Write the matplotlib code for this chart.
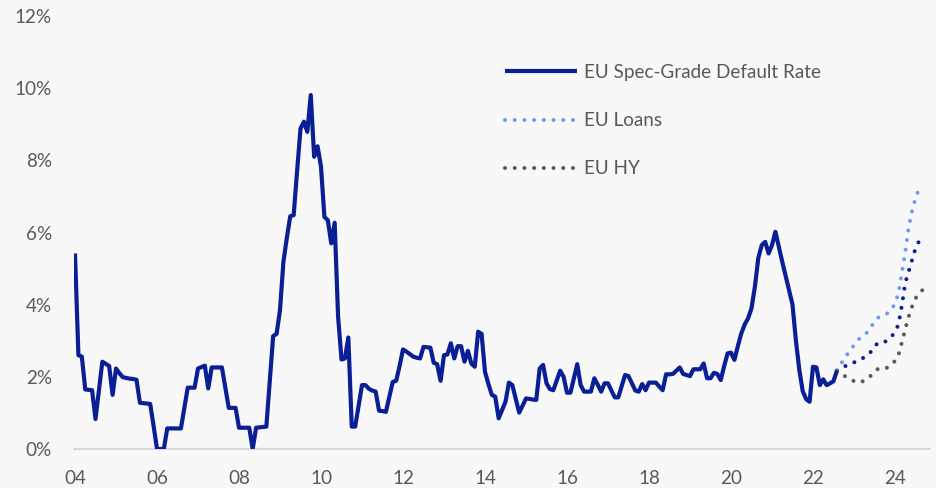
import numpy as np
import pandas as pd
import matplotlib
matplotlib.use("Agg")
import matplotlib.pyplot as plt

# ---- data -------------------------------------------------------------
start_month = "2004-01"
spec_grade_rate = [
    # 2004
    5.42, 2.60, 2.56, 1.65, 1.64, 1.63, 0.83, 1.62, 2.42, 2.36, 2.30, 1.50,
    # 2005
    2.23, 2.10, 1.99, 1.97, 1.95, 1.94, 1.92, 1.28, 1.27, 1.26, 1.25, 0.64,
    # 2006
    0.00, 0.00, 0.00, 0.57, 0.57, 0.57, 0.57, 0.57, 1.13, 1.70, 1.70, 1.70,
    # 2007
    2.23, 2.27, 2.31, 1.68, 2.26, 2.26, 2.26, 2.26, 1.70, 1.14, 1.14, 1.14,
    # 2008
    0.59, 0.59, 0.59, 0.59, 0.00, 0.59, 0.60, 0.61, 0.62, 1.88, 3.13, 3.19,
    # 2009
    3.85, 5.19, 5.85, 6.45, 6.48, 7.70, 8.88, 9.07, 8.79, 9.81, 8.10, 8.39,
    # 2010
    7.82, 6.43, 6.34, 5.70, 6.27, 3.67, 2.48, 2.51, 3.09, 0.62, 0.62, 1.20,
    # 2011
    1.77, 1.77, 1.67, 1.62, 1.59, 1.06, 1.05, 1.03, 1.45, 1.86, 1.89, 2.30,
    # 2012
    2.76, 2.70, 2.63, 2.56, 2.53, 2.51, 2.83, 2.82, 2.81, 2.39, 2.35, 1.89,
    # 2013
    2.60, 2.62, 2.93, 2.51, 2.85, 2.85, 2.42, 2.72, 2.37, 2.28, 3.25, 3.19,
    # 2014
    2.14, 1.80, 1.50, 1.45, 0.85, 1.08, 1.31, 1.84, 1.77, 1.39, 1.01, 1.20,
    # 2015
    1.40, 1.39, 1.37, 1.36, 2.23, 2.33, 1.82, 1.66, 1.63, 1.90, 2.17, 2.00,
    # 2016
    1.56, 1.56, 1.95, 2.35, 1.77, 1.59, 1.59, 1.59, 1.96, 1.78, 1.59, 1.82,
    # 2017
    1.82, 1.62, 1.43, 1.43, 1.74, 2.05, 2.02, 1.82, 1.62, 1.59, 1.80, 1.63,
    # 2018
    1.84, 1.84, 1.84, 1.73, 1.63, 2.07, 2.07, 2.08, 2.17, 2.26, 2.08, 2.05,
    # 2019
    2.02, 2.21, 2.21, 2.21, 2.37, 1.96, 1.96, 2.11, 2.08, 1.91, 2.30, 2.65,
    # 2020
    2.67, 2.47, 2.85, 3.20, 3.45, 3.62, 3.90, 4.50, 5.30, 5.65, 5.74, 5.42,
    # 2021
    5.65, 6.02, 5.60, 5.19, 4.80, 4.40, 4.00, 3.00, 2.19, 1.60, 1.38, 1.31,
    # 2022
    2.28, 2.26, 1.77, 1.93, 1.77, 1.82, 1.88, 2.17,
]

forecast_start = "2022-08"
eu_loans = [2.17, 2.33, 2.48, 2.62, 2.74, 2.88, 3.00, 3.10, 3.17, 3.24, 3.38,
            3.53, 3.64, 3.67, 3.72, 3.77, 3.86, 4.05, 4.30, 4.88, 5.45, 6.15,
            6.60, 6.95, 7.20, 7.32]
eu_baseline = [2.17, 2.22, 2.28, 2.32, 2.36, 2.40, 2.44, 2.49, 2.54, 2.60, 2.70,
               2.84, 2.94, 2.95, 2.97, 3.02, 3.12, 3.24, 3.45, 3.97, 4.60, 4.92,
               5.24, 5.56, 5.75, 5.84]
eu_hy = [2.17, 2.10, 2.04, 1.98, 1.93, 1.88, 1.84, 1.86, 1.89, 1.95, 2.04,
         2.14, 2.22, 2.22, 2.22, 2.27, 2.34, 2.44, 2.60, 2.95, 3.32, 3.67,
         3.95, 4.17, 4.32, 4.40]

x_ticks = [2004, 2006, 2008, 2010, 2012, 2014, 2016, 2018, 2020, 2022, 2024]
x_tick_labels = ["04", "06", "08", "10", "12", "14", "16", "18", "20", "22", "24"]
y_ticks = [0, 2, 4, 6, 8, 10, 12]
y_tick_labels = ["0%", "2%", "4%", "6%", "8%", "10%", "12%"]

legend_labels = ["EU Spec-Grade Default Rate", "EU Loans", "EU HY"]

# ---- helpers -----------------------------------------------------------
def decimal_years(start, n):
    d = pd.date_range(start, periods=n, freq="MS")
    return d.year + (d.month - 1) / 12.0

t_main = decimal_years(start_month, len(spec_grade_rate))
t_fc = decimal_years(forecast_start, len(eu_loans))

# ---- style -------------------------------------------------------------
plt.rcParams["font.family"] = ["Lato", "DejaVu Sans"]
bg = "#f8f8f8"
txt = "#595959"
navy = "#0a1e96"
light = "#6f9cef"
grey = "#5a5a5e"
fs = 13.6

W, H = 936, 488
fig = plt.figure(figsize=(W / 100, H / 100), dpi=100, facecolor=bg)

x_left, x_right = 2003.98, 2024.85
px_left = 75 + (x_left - 2004) * 41
px_right = 75 + (x_right - 2004) * 41
y_bottom_px, y_top_px = 449, 16
ax = fig.add_axes([px_left / W, 1 - y_bottom_px / H,
                   (px_right - px_left) / W, (y_bottom_px - y_top_px) / H])
ax.set_facecolor(bg)

dot = dict(linestyle=(0, (0.01, 2.4)), dash_capstyle="round", lw=2.9)

l_loans, = ax.plot(t_fc, eu_loans, color=light, **dot)
ax.plot(t_fc, eu_baseline, color=navy, **dot)
l_hy, = ax.plot(t_fc, eu_hy, color=grey, **dot)
l_main, = ax.plot(t_main, spec_grade_rate, color=navy, lw=3.0,
                  solid_joinstyle="round", solid_capstyle="butt")

ax.set_xlim(x_left, x_right)
ax.set_ylim(0, 12)
ax.set_xticks(x_ticks)
ax.set_xticklabels(x_tick_labels)
ax.set_yticks(y_ticks)
ax.set_yticklabels(y_tick_labels)
ax.tick_params(axis="both", length=0, labelsize=fs, labelcolor=txt)
ax.tick_params(axis="y", pad=16)
ax.tick_params(axis="x", pad=15)

for s in ["top", "right", "left"]:
    ax.spines[s].set_visible(False)
ax.spines["bottom"].set_color("#d9d9d9")
ax.spines["bottom"].set_linewidth(1.5)
ax.spines["bottom"].set_zorder(0)

leg = ax.legend([l_main, l_loans, l_hy], legend_labels,
                loc="upper left", bbox_to_anchor=(505 / W, 1 - 64 / H),
                bbox_transform=fig.transFigure, frameon=False,
                fontsize=fs, labelcolor=txt, handlelength=3.8,
                handletextpad=0.4, labelspacing=1.65, borderpad=0,
                borderaxespad=0)

fig.savefig("out.png", dpi=100, facecolor=bg)
